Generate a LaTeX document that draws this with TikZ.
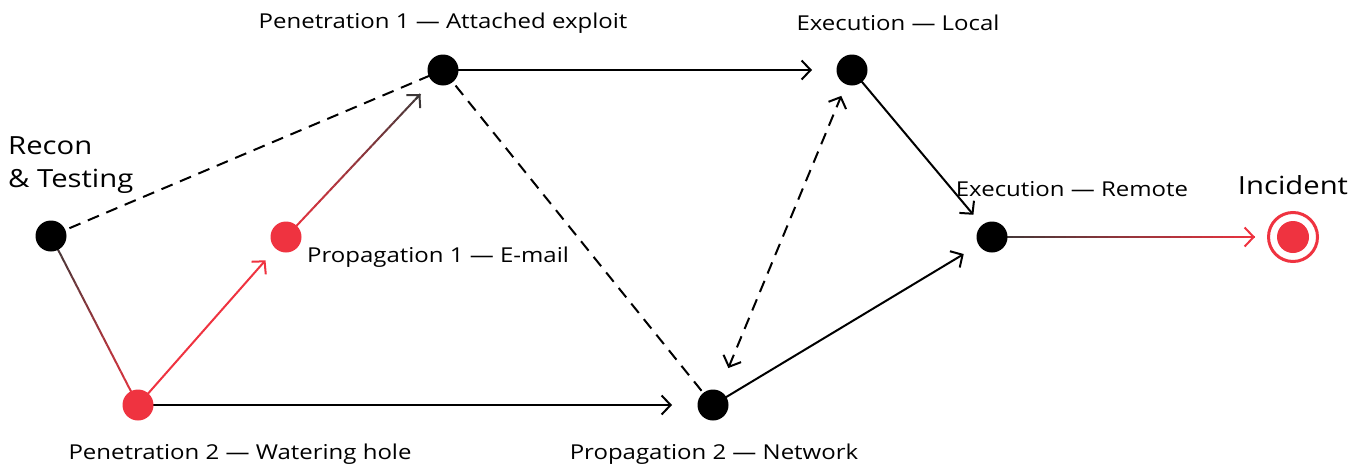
\documentclass[tikz,border=0pt]{standalone}
\usepackage{fontspec}
\setmainfont{Open Sans}[FakeStretch=1.17]
\usetikzlibrary{arrows.meta,calc}
\definecolor{kred}{RGB}{239,51,64}
\definecolor{kdark}{RGB}{60,55,55}
\pgfdeclarelayer{bg}\pgfsetlayers{bg,main}
\newcommand{\gradline}[6]{% from, to, col1, col2, shorten start, shorten end
  \coordinate (gS) at ($(#1)!#5!(#2)$);
  \coordinate (gE) at ($(#2)!#6!(#1)$);
  \foreach \i in {0,...,24}{
    \pgfmathtruncatemacro\pc{100-\i*4}
    \pgfmathsetmacro\ta{\i/25}
    \pgfmathsetmacro\tb{(\i+1)/25}
    \draw[conn,line cap=butt,color=#3!\pc!#4] ($(gS)!\ta!(gE)$) -- ($(gS)!\tb!(gE)$);
  }}
\tikzset{
  conn/.style={line width=2pt},
  tip/.style={-{Straight Barb[length=9pt,width=19pt,line width=2pt]}},
  dsh/.style={conn,dash pattern=on 12pt off 8pt},
  dot/.style={circle,fill=black,minimum size=31pt,inner sep=0pt},
  reddot/.style={dot,fill=kred},
  lbl/.style={font=\fontsize{20.5}{25}\selectfont,inner sep=0pt},
  big/.style={font=\fontsize{25}{33}\selectfont,inner sep=0pt}
}
\begin{document}
\begin{tikzpicture}[x=1pt,y=-1pt]
\useasboundingbox (0,0) rectangle (1365,466);
% nodes
\node[dot] (recon) at (51,236) {};
\node[reddot] (pentwo) at (138,405) {};
\node[reddot] (propone) at (286,237) {};
\node[dot] (penone) at (443,70) {};
\node[dot] (exloc) at (852,70) {};
\node[dot] (exrem) at (992,237) {};
\node[dot] (proptwo) at (713,405) {};
\node[circle,fill=kred,minimum size=32pt,inner sep=0pt] (inc) at (1293,237) {};
\node[circle,draw=kred,line width=3pt,minimum size=49pt,inner sep=0pt] (incring) at (1293,237) {};
% labels
\node[lbl] (l1) at (443,23) {Penetration 1 — Attached exploit};
\node[lbl] (l2) at (898,23) {Execution — Local};
\node[big,align=left,anchor=west] (l3) at (8,165) {Recon\\\& Testing};
\node[lbl,anchor=west] (l4) at (307,257) {Propagation 1 — E-mail};
\node[lbl] (l5) at (1072,189) {Execution — Remote};
\node[big] (l6) at (1293,185) {Incident};
\node[lbl] (l7) at (240,454) {Penetration 2 — Watering hole};
\node[lbl] (l8) at (714,454) {Propagation 2 — Network};
% connectors
\begin{pgfonlayer}{bg}
\draw[dsh] (recon.center) -- (penone.center);
\draw[dsh] (penone.center) -- (proptwo.center);
\draw[dsh,{Straight Barb[length=9pt,width=19pt,line width=2pt]}-{Straight Barb[length=9pt,width=19pt,line width=2pt]},shorten <=40pt,shorten >=28pt] (proptwo.center) -- (exloc.center);
\draw[conn,tip,shorten >=40pt] (penone.center) -- (exloc.center);
\draw[conn,tip,shorten >=41pt] (pentwo.center) -- (proptwo.center);
\draw[conn,tip,shorten >=29pt] (exloc.center) -- (exrem.center);
\draw[conn,tip,shorten >=33pt] (proptwo.center) -- (exrem.center);
\draw[conn,kred,tip,shorten >=31pt] (pentwo.center) -- (propone.center);
\gradline{recon.center}{pentwo.center}{kdark}{kred}{0pt}{0pt}
\gradline{propone.center}{penone.center}{kred}{kdark}{0pt}{33pt}
\draw[conn,kdark,tip] ($(penone.center)!40pt!(propone.center)$) -- ($(penone.center)!33pt!(propone.center)$);
\gradline{exrem.center}{inc.center}{kdark}{kred}{0pt}{38pt}
\draw[conn,kred,tip] ($(inc.center)!45pt!(exrem.center)$) -- ($(inc.center)!38pt!(exrem.center)$);
\end{pgfonlayer}
\end{tikzpicture}
\end{document}
